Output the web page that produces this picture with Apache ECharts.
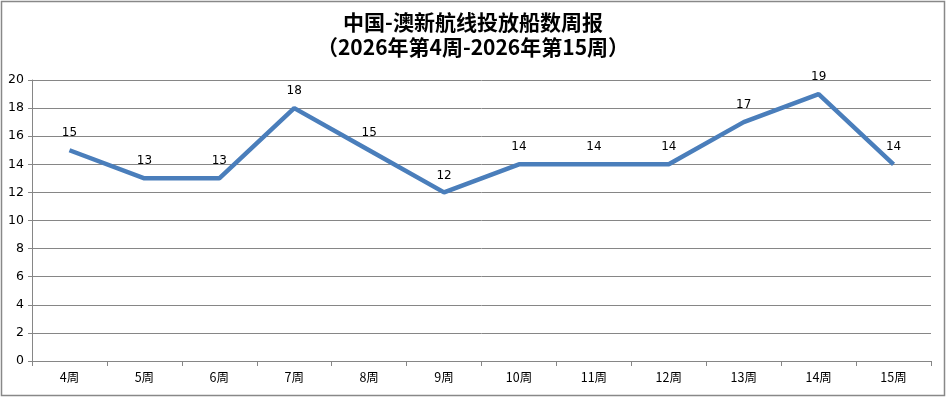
<!DOCTYPE html>
<html><head><meta charset="utf-8">
<script src="https://cdn.jsdelivr.net/npm/echarts@6/dist/echarts.min.js"></script>
<style>html,body{margin:0;padding:0;background:#fff}#c{width:946px;height:397px}</style>
</head><body><div id="c"></div>
<script>
const titleLine1 = '中国-澳新航线投放船数周报';
const titleLine2 = '（2026年第4周-2026年第15周）';
const categories = ['4周','5周','6周','7周','8周','9周','10周','11周','12周','13周','14周','15周'];
const shipCounts = [15,13,13,18,15,12,14,14,14,17,19,14];
const yTicks = {min:0, max:20, interval:2};

const chart = echarts.init(document.getElementById('c'), null, {renderer:'canvas'});
chart.setOption({
  animation:false,
  backgroundColor:'#fff',
  title:{
    text: titleLine1 + '\n' + titleLine2,
    left:'center', top:5,
    textStyle:{fontFamily:'Noto Sans CJK SC', fontWeight:'bold', fontSize:21, color:'#000', lineHeight:25}
  },
  graphic:[{type:'rect', shape:{x:1.5,y:1.5,width:943,height:394}, style:{fill:'none', stroke:'#888', lineWidth:1.5}, silent:true}],
  grid:{left:32, right:15, top:80, bottom:36},
  xAxis:{
    type:'category', data:categories, boundaryGap:true,
    axisLine:{lineStyle:{color:'#868686'}},
    axisTick:{show:true, length:5, lineStyle:{color:'#868686'}},
    axisLabel:{color:'#000', fontSize:12.5, fontFamily:'Noto Sans CJK SC', margin:10}
  },
  yAxis:{
    type:'value', min:yTicks.min, max:yTicks.max, interval:yTicks.interval,
    axisLine:{show:true, lineStyle:{color:'#868686'}},
    axisTick:{show:true, length:4, lineStyle:{color:'#868686'}},
    splitLine:{lineStyle:{color:'#868686'}},
    axisLabel:{color:'#000', fontSize:12.5, fontFamily:'DejaVu Sans', margin:8}
  },
  series:[{
    type:'line', data:shipCounts, showSymbol:true, symbol:'circle', symbolSize:0,
    lineStyle:{color:'#4A7EBB', width:4.5},
    label:{show:true, position:'top', distance:11, color:'#000', fontSize:12, fontFamily:'DejaVu Sans'},
    itemStyle:{color:'#4A7EBB'}
  }]
});
</script></body></html>
